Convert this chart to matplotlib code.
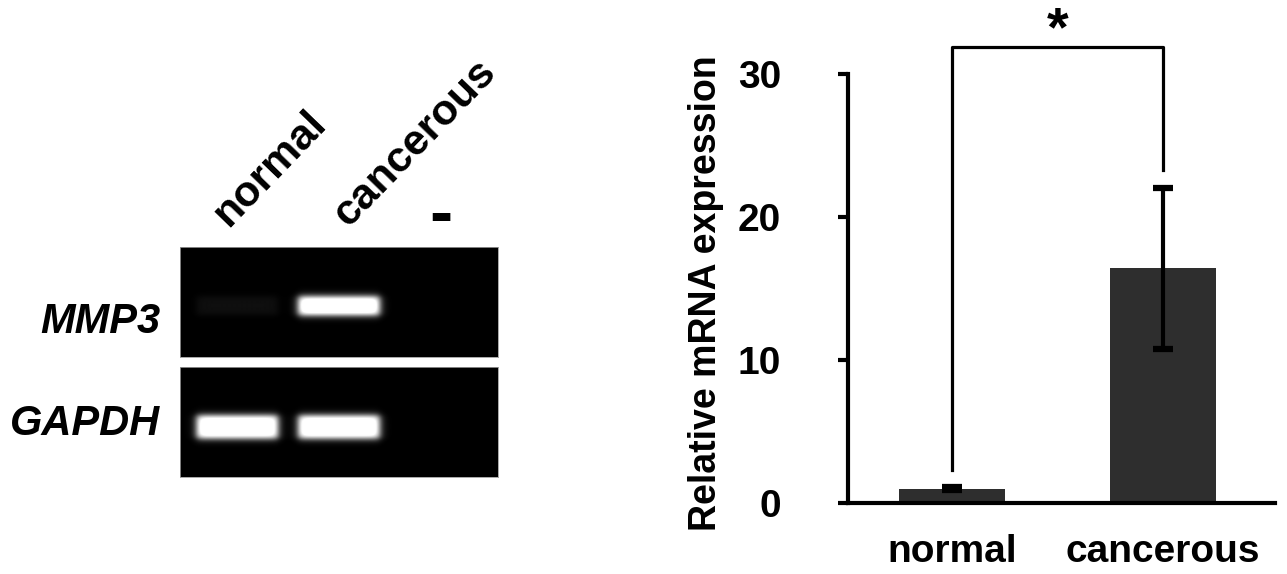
import numpy as np
import matplotlib
matplotlib.use("Agg")
import matplotlib.pyplot as plt
from matplotlib.transforms import blended_transform_factory

plt.rcParams['font.family'] = ['Liberation Sans', 'DejaVu Sans']
plt.rcParams['font.weight'] = 'bold'

# ---------------- data ----------------
lanes = ["normal", "cancerous", "-"]
genes = ["MMP3", "GAPDH"]
mmp3_intensity = [0.06, 1.25, 0.0]
gapdh_intensity = [1.20, 1.20, 0.0]

groups = ["normal", "cancerous"]
means = [1.0, 16.4]
errors = [0.12, 5.65]
yticks = [0, 10, 20, 30]
ylabel = "Relative mRNA expression"
bracket_low = [2.3, 23.3]
bracket_top = 31.9
sig_label = "*"

W, H = 1287, 574
fig = plt.figure(figsize=(W / 100, H / 100), dpi=100)


def fx(x):
    return x / W


def fy(y):
    return 1 - y / H


# ---------------- gel panels ----------------
def smooth_box(t, c, hw, s):
    return 0.5 * (np.tanh((t - (c - hw)) / s) - np.tanh((t - (c + hw)) / s))


xlo, xhi = -0.56, 2.56
gx = np.linspace(xlo, xhi, 320)
gy = np.linspace(0, 1, 110)
GX, GY = np.meshgrid(gx, gy)

panel_specs = [
    (mmp3_intensity, 247, 357, 0.535, 0.085),
    (gapdh_intensity, 367, 477, 0.545, 0.105),
]
gel_axes = []
for intens, ytop, ybot, yc, hth in panel_specs:
    ax = fig.add_axes([fx(180), fy(ybot), fx(498) - fx(180), (ybot - ytop) / H])
    img = np.zeros_like(GX)
    for i, v in enumerate(intens):
        img += v * smooth_box(GX, i, 0.40, 0.045) * smooth_box(GY, yc, hth, 0.035)
    ax.imshow(np.clip(img, 0, 1), cmap='gray', vmin=0, vmax=1, aspect='auto',
              extent=[xlo, xhi, 1, 0], interpolation='bilinear')
    ax.set_xlim(xlo, xhi)
    ax.set_ylim(1, 0)
    ax.set_xticks([])
    ax.set_yticks([])
    for sp in ax.spines.values():
        sp.set_color('#9a9a9a')
        sp.set_linewidth(0.6)
    gel_axes.append(ax)

# gene labels
fig.text(fx(160), fy(322), genes[0], ha='right', va='center', fontsize=30,
         fontstyle='italic', fontweight='bold')
fig.text(fx(160), fy(424), genes[1], ha='right', va='center', fontsize=30,
         fontstyle='italic', fontweight='bold')

# lane labels
top_ax = gel_axes[0]
tr = blended_transform_factory(top_ax.transData, fig.transFigure)
label_offsets = [-0.09, 0.09]
for i, lab in enumerate(lanes[:2]):
    top_ax.text(i + label_offsets[i], fy(228), lab, transform=tr, rotation=46,
                rotation_mode='anchor', ha='left', va='baseline', fontsize=31,
                fontweight='bold', clip_on=False)
top_ax.text(2, fy(217), lanes[2], transform=tr, ha='center', va='center',
            fontsize=50, fontweight='bold', clip_on=False)

# ---------------- bar chart ----------------
axb = fig.add_axes([fx(848), fy(503), fx(1275) - fx(848), (503 - 74) / H])
xpos = np.arange(len(groups))
axb.bar(xpos, means, width=0.5, color='#2e2e2e', zorder=2)
axb.errorbar(xpos, means, yerr=errors, fmt='none', ecolor='black', elinewidth=3,
             capsize=7.5, capthick=4.5, zorder=3)

axb.set_xlim(-0.493, 1.53)
axb.set_ylim(0, 30)
axb.set_yticks(yticks)
axb.set_xticks(xpos)
axb.set_xticklabels(groups)
for sp in ['top', 'right']:
    axb.spines[sp].set_visible(False)
axb.spines['left'].set_linewidth(3)
axb.spines['bottom'].set_linewidth(3)
axb.tick_params(axis='y', direction='out', length=7, width=3, pad=41, labelsize=28)
axb.tick_params(axis='x', length=0, pad=22, labelsize=28)
for t in axb.get_xticklabels() + axb.get_yticklabels():
    t.set_fontweight('bold')
axb.set_ylabel(ylabel, fontsize=27, fontweight='bold')
axb.yaxis.set_label_coords(-0.29, 0.49)

# significance bracket
axb.plot([xpos[0], xpos[0], xpos[1], xpos[1]],
         [bracket_low[0], bracket_top, bracket_top, bracket_low[1]],
         color='black', lw=2.3, clip_on=False, zorder=4)
axb.text(0.5, 32.0, sig_label, ha='center', va='baseline', fontsize=40,
         fontweight='bold', clip_on=False)

fig.savefig("out.png", dpi=100, facecolor='white')
